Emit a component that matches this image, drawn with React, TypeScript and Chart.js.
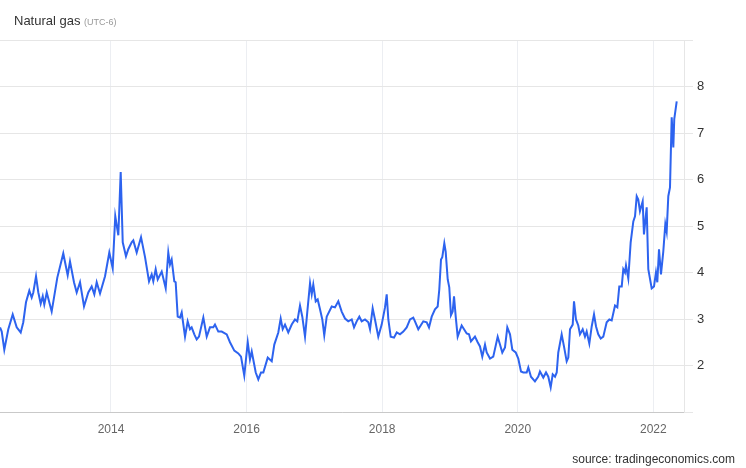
import React, { useEffect, useRef } from "react";
import { Chart, registerables } from "chart.js";

Chart.register(...registerables);

// decimal years of each observation
const timeline: number[] = [
  2012.363, 2012.388, 2012.426, 2012.485, 2012.55, 2012.609, 2012.668, 2012.706, 2012.746, 2012.795,
  2012.83, 2012.854, 2012.894, 2012.928, 2012.963, 2012.993, 2013.016, 2013.052, 2013.125, 2013.208,
  2013.296, 2013.361, 2013.395, 2013.454, 2013.494, 2013.543, 2013.602, 2013.665, 2013.715, 2013.754,
  2013.789, 2013.838, 2013.912, 2013.975, 2014.025, 2014.063, 2014.108, 2014.143, 2014.173, 2014.221,
  2014.255, 2014.305, 2014.329, 2014.379, 2014.443, 2014.502, 2014.561, 2014.6, 2014.624, 2014.659,
  2014.689, 2014.748, 2014.807, 2014.845, 2014.87, 2014.895, 2014.934, 2014.954, 2014.984, 2015.018,
  2015.043, 2015.092, 2015.131, 2015.165, 2015.19, 2015.229, 2015.264, 2015.298, 2015.362, 2015.412,
  2015.46, 2015.509, 2015.534, 2015.583, 2015.633, 2015.707, 2015.755, 2015.819, 2015.878, 2015.918,
  2015.966, 2016.017, 2016.05, 2016.076, 2016.135, 2016.173, 2016.213, 2016.247, 2016.312, 2016.371,
  2016.409, 2016.468, 2016.503, 2016.533, 2016.567, 2016.615, 2016.666, 2016.714, 2016.748, 2016.788,
  2016.822, 2016.862, 2016.896, 2016.936, 2016.961, 2016.984, 2017.02, 2017.049, 2017.083, 2017.117,
  2017.146, 2017.182, 2017.256, 2017.304, 2017.353, 2017.403, 2017.452, 2017.5, 2017.551, 2017.585,
  2017.624, 2017.663, 2017.698, 2017.747, 2017.796, 2017.821, 2017.86, 2017.894, 2017.943, 2017.993,
  2018.042, 2018.067, 2018.091, 2018.126, 2018.175, 2018.215, 2018.263, 2018.312, 2018.362, 2018.411,
  2018.459, 2018.484, 2018.533, 2018.607, 2018.657, 2018.691, 2018.731, 2018.779, 2018.819, 2018.843,
  2018.868, 2018.887, 2018.917, 2018.937, 2018.967, 2018.99, 2019.015, 2019.04, 2019.06, 2019.085,
  2019.114, 2019.173, 2019.247, 2019.281, 2019.31, 2019.369, 2019.409, 2019.443, 2019.477, 2019.517,
  2019.542, 2019.591, 2019.639, 2019.704, 2019.738, 2019.772, 2019.812, 2019.846, 2019.886, 2019.92,
  2019.97, 2020.008, 2020.048, 2020.082, 2020.132, 2020.156, 2020.195, 2020.254, 2020.303, 2020.328,
  2020.377, 2020.417, 2020.451, 2020.486, 2020.516, 2020.55, 2020.575, 2020.598, 2020.648, 2020.682,
  2020.722, 2020.746, 2020.771, 2020.811, 2020.83, 2020.859, 2020.893, 2020.918, 2020.958, 2020.992,
  2021.017, 2021.056, 2021.091, 2021.125, 2021.155, 2021.188, 2021.224, 2021.262, 2021.312, 2021.351,
  2021.386, 2021.435, 2021.469, 2021.498, 2021.534, 2021.557, 2021.582, 2021.597, 2021.631, 2021.666,
  2021.705, 2021.73, 2021.755, 2021.778, 2021.803, 2021.843, 2021.862, 2021.902, 2021.926, 2021.976,
  2022.01, 2022.039, 2022.059, 2022.084, 2022.113, 2022.147, 2022.177, 2022.197, 2022.221, 2022.246,
  2022.271, 2022.295, 2022.309, 2022.345,
];

// natural gas price (USD/MMBtu)
const price: number[] = [
  2.82, 2.73, 2.34, 2.78, 3.1, 2.82, 2.71, 2.93, 3.36, 3.61,
  3.46, 3.57, 3.92, 3.57, 3.33, 3.49, 3.31, 3.57, 3.16, 3.89,
  4.41, 3.94, 4.24, 3.79, 3.57, 3.79, 3.27, 3.57, 3.7, 3.53,
  3.79, 3.55, 3.92, 4.43, 4.09, 5.21, 4.8, 6.16, 4.65, 4.35,
  4.5, 4.65, 4.69, 4.43, 4.76, 4.33, 3.81, 3.96, 3.81, 4.07,
  3.85, 4.02, 3.66, 4.43, 4.17, 4.28, 3.81, 3.79, 3.05, 3.03,
  3.14, 2.62, 2.95, 2.78, 2.82, 2.67, 2.56, 2.62, 3.03, 2.62,
  2.82, 2.82, 2.88, 2.73, 2.73, 2.67, 2.5, 2.32, 2.26, 2.19,
  1.78, 2.5, 2.13, 2.3, 1.85, 1.7, 1.85, 1.85, 2.17, 2.09,
  2.45, 2.71, 3.01, 2.78, 2.88, 2.71, 2.88, 2.99, 2.95, 3.29,
  3.05, 2.62, 3.16, 3.77, 3.53, 3.74, 3.38, 3.42, 3.21, 2.99,
  2.65, 3.05, 3.27, 3.25, 3.38, 3.16, 3.01, 2.95, 2.99, 2.82,
  2.95, 3.05, 2.95, 2.99, 2.93, 2.78, 3.23, 2.99, 2.62, 2.88,
  3.25, 3.53, 2.99, 2.62, 2.6, 2.71, 2.67, 2.73, 2.82, 2.99,
  3.03, 2.95, 2.78, 2.95, 2.93, 2.82, 3.05, 3.21, 3.27, 3.64,
  4.28, 4.33, 4.63, 4.45, 3.85, 3.68, 3.08, 3.16, 3.49, 3.05,
  2.62, 2.86, 2.69, 2.67, 2.52, 2.62, 2.5, 2.41, 2.19, 2.45,
  2.28, 2.15, 2.19, 2.62, 2.45, 2.28, 2.39, 2.82, 2.67, 2.34,
  2.28, 2.15, 1.87, 1.85, 1.85, 1.96, 1.76, 1.66, 1.76, 1.87,
  1.74, 1.85, 1.76, 1.53, 1.81, 1.76, 1.85, 2.28, 2.67, 2.41,
  2.09, 2.17, 2.78, 2.88, 3.38, 2.99, 2.86, 2.67, 2.78, 2.62,
  2.73, 2.47, 2.84, 3.1, 2.84, 2.67, 2.58, 2.62, 2.93, 2.99,
  2.97, 3.29, 3.25, 3.7, 3.7, 4.07, 4.0, 4.15, 3.87, 4.65,
  5.1, 5.21, 5.64, 5.57, 5.32, 5.53, 4.82, 5.4, 4.07, 3.66,
  3.7, 4.0, 3.79, 4.5, 3.96, 4.45, 5.04, 4.88, 5.64, 5.83,
  7.34, 6.69, 7.3, 7.68,
];

const xTickYears: number[] = [2014, 2016, 2018, 2020, 2022];
const yTickValues: number[] = [1, 2, 3, 4, 5, 6, 7, 8, 9];
const yLabelled: number[] = [2, 3, 4, 5, 6, 7, 8];

const X_MIN = 2012.3626;
const X_MAX = 2022.4526;

export default function App() {
  const canvasRef = useRef<HTMLCanvasElement | null>(null);

  useEffect(() => {
    const canvas = canvasRef.current;
    if (!canvas) return;
    const points = timeline.map((t, i) => ({ x: t, y: price[i] }));
    const chart = new Chart(canvas, {
      type: "line",
      data: {
        datasets: [
          {
            label: "Natural gas",
            data: points,
            borderColor: "#2d63ef",
            borderWidth: 2,
            pointRadius: 0,
            tension: 0,
            fill: false,
          },
        ],
      },
      options: {
        animation: false,
        responsive: false,
        devicePixelRatio: 1,
        layout: { padding: { top: 40, left: 0, right: 0, bottom: 0 } },
        plugins: {
          legend: { display: false },
          tooltip: { enabled: false },
          title: { display: false },
        },
        scales: {
          x: {
            type: "linear",
            position: "bottom",
            min: X_MIN,
            max: X_MAX,
            afterBuildTicks: (scale: any) => {
              scale.ticks = xTickYears.map((v) => ({ value: v }));
            },
            afterFit: (scale: any) => {
              scale.height = 56;
            },
            grid: { color: "#eceef2", drawTicks: false, lineWidth: 1 },
            border: { color: "#c9c9c9", width: 1 },
            ticks: {
              padding: 10,
              color: "#666666",
              font: { family: "'Liberation Sans', Arial, sans-serif", size: 12 },
              callback: (v: any) => String(v),
              maxRotation: 0,
            },
          },
          y: {
            type: "linear",
            position: "right",
            min: 1,
            max: 9,
            afterBuildTicks: (scale: any) => {
              scale.ticks = yTickValues.map((v) => ({ value: v }));
            },
            afterFit: (scale: any) => {
              scale.width = 62;
            },
            grid: { color: "#e6e6e6", tickLength: 9, lineWidth: 1 },
            border: { color: "#e6e6e6", width: 1 },
            ticks: {
              padding: 4,
              color: "#333333",
              font: { family: "'Liberation Sans', Arial, sans-serif", size: 13 },
              callback: (v: any) => (yLabelled.includes(Number(v)) ? String(v) : ""),
            },
          },
        },
      },
    });
    return () => chart.destroy();
  }, []);

  return (
    <div
      style={{
        position: "absolute",
        left: 0,
        top: 0,
        width: 746,
        height: 468,
        background: "#ffffff",
        fontFamily: "'Liberation Sans', Arial, sans-serif",
      }}
    >
      <canvas
        ref={canvasRef}
        width={746}
        height={468}
        style={{ position: "absolute", left: 0, top: 0, width: 746, height: 468 }}
      />
      <div
        style={{
          position: "absolute",
          left: 14,
          top: 13,
          fontSize: 13,
          color: "#333333",
          whiteSpace: "nowrap",
          lineHeight: "16px",
        }}
      >
        Natural gas{" "}
        <span style={{ fontSize: 9, color: "#999999" }}>(UTC-6)</span>
      </div>
      <div
        style={{
          position: "absolute",
          right: 11,
          top: 452,
          fontSize: 12,
          color: "#333333",
          whiteSpace: "nowrap",
          lineHeight: "15px",
        }}
      >
        source: tradingeconomics.com
      </div>
    </div>
  );
}
